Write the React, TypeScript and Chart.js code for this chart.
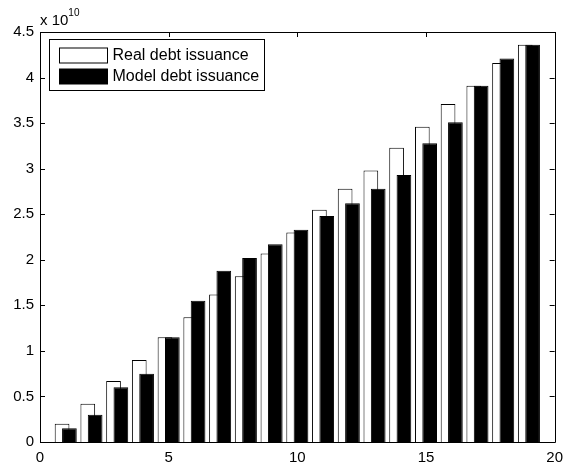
import React, { useEffect, useRef } from "react";
import { Chart, registerables } from "chart.js";

Chart.register(...registerables);

// ---- data (values in units of 10^10) ----
const periods = [1, 2, 3, 4, 5, 6, 7, 8, 9, 10, 11, 12, 13, 14, 15, 16, 17, 18, 19];
const realDebt = [0.20, 0.42, 0.67, 0.90, 1.15, 1.37, 1.62, 1.82, 2.07, 2.30, 2.55, 2.78, 2.98, 3.23, 3.46, 3.71, 3.91, 4.16, 4.36];
const modelDebt = [0.15, 0.30, 0.60, 0.75, 1.15, 1.55, 1.88, 2.02, 2.17, 2.33, 2.48, 2.62, 2.78, 2.93, 3.28, 3.51, 3.91, 4.21, 4.36];
const seriesLabels = ["Real debt issuance", "Model debt issuance"];
const xTickValues = [0, 5, 10, 15, 20];
const yTickValues = [0, 0.5, 1, 1.5, 2, 2.5, 3, 3.5, 4, 4.5];
const yTickLabels = ["0", "0.5", "1", "1.5", "2", "2.5", "3", "3.5", "4", "4.5"];
const EXP = 10;
const SCALE = Math.pow(10, EXP);

const FONT = "Liberation Sans, Arial, Helvetica, sans-serif";

// draw datasets in index order so the model bars sit on top of the real bars
const drawOrderPlugin = {
  id: "drawOrder",
  beforeDatasetsDraw(chart: any) {
    const { ctx, chartArea: a } = chart;
    ctx.save();
    ctx.beginPath();
    ctx.rect(a.left, a.top, a.right - a.left, a.bottom - a.top);
    ctx.clip();
    chart.getSortedVisibleDatasetMetas().forEach((meta: any) => meta.controller.draw());
    ctx.restore();
    return false;
  },
};

// MATLAB style box, inward ticks, exponent label and legend
const matlabPlugin = {
  id: "matlabFrame",
  afterDraw(chart: any) {
    const { ctx, chartArea: a, scales } = chart;
    const xs = scales.x;
    const ys = scales.y;
    const tl = 5;
    ctx.save();
    ctx.strokeStyle = "#000";
    ctx.lineWidth = 1;
    ctx.beginPath();
    ctx.rect(Math.round(a.left) + 0.5, Math.round(a.top) + 0.5, Math.round(a.right - a.left), Math.round(a.bottom - a.top));
    ctx.stroke();
    ctx.beginPath();
    xTickValues.forEach((v) => {
      const px = Math.round(xs.getPixelForValue(v)) + 0.5;
      ctx.moveTo(px, a.bottom);
      ctx.lineTo(px, a.bottom - tl);
      ctx.moveTo(px, a.top);
      ctx.lineTo(px, a.top + tl);
    });
    yTickValues.forEach((v) => {
      const py = Math.round(ys.getPixelForValue(v * SCALE)) + 0.5;
      ctx.moveTo(a.left, py);
      ctx.lineTo(a.left + tl, py);
      ctx.moveTo(a.right, py);
      ctx.lineTo(a.right - tl, py);
    });
    ctx.stroke();

    // exponent label
    ctx.fillStyle = "#000";
    ctx.textAlign = "left";
    ctx.textBaseline = "alphabetic";
    ctx.font = `15px ${FONT}`;
    const base = "x 10";
    ctx.fillText(base, a.left, a.top - 7);
    const w = ctx.measureText(base).width;
    ctx.font = `10px ${FONT}`;
    ctx.fillText(String(EXP), a.left + w, a.top - 16);

    // legend
    const lx = a.left + 9.5;
    const ly = a.top + 7.5;
    const lw = 215;
    const lh = 51;
    ctx.fillStyle = "#fff";
    ctx.fillRect(lx, ly, lw, lh);
    ctx.strokeRect(lx, ly, lw, lh);
    const ds = chart.data.datasets;
    const rows = [ly + 15.5, ly + 36.5];
    ds.forEach((d: any, i: number) => {
      const cy = rows[i];
      ctx.fillStyle = d.backgroundColor;
      ctx.fillRect(lx + 10, cy - 7, 48, 15);
      ctx.strokeStyle = "#000";
      ctx.strokeRect(lx + 10, cy - 7, 48, 15);
      ctx.fillStyle = "#000";
      ctx.font = `16px ${FONT}`;
      ctx.textBaseline = "middle";
      ctx.fillText(d.label, lx + 63, cy + 1);
    });
    ctx.restore();
  },
};

export default function App() {
  const ref = useRef<HTMLCanvasElement | null>(null);
  useEffect(() => {
    if (!ref.current) return;
    const chart = new Chart(ref.current, {
      type: "bar",
      data: {
        datasets: [
          {
            label: seriesLabels[0],
            data: periods.map((p, i) => ({ x: p, y: realDebt[i] * SCALE })),
            backgroundColor: "#ffffff",
            borderColor: "#000000",
            borderWidth: 1,
            categoryPercentage: 0.571,
            barPercentage: 2.0,
          },
          {
            label: seriesLabels[1],
            data: periods.map((p, i) => ({ x: p, y: modelDebt[i] * SCALE })),
            backgroundColor: "#000000",
            borderColor: "#000000",
            borderWidth: 1,
            categoryPercentage: 0.571,
            barPercentage: 2.0,
          },
        ] as any,
      },
      options: {
        animation: false,
        responsive: false,
        layout: { padding: { top: 32, right: 11, left: 0, bottom: 0 } },
        plugins: { legend: { display: false }, tooltip: { enabled: false } },
        scales: {
          x: {
            type: "linear",
            min: 0,
            max: 20,
            offset: false,
            grid: { display: false, drawTicks: false, offset: false },
            border: { display: false },
            afterBuildTicks: (s: any) => {
              s.ticks = xTickValues.map((v) => ({ value: v }));
            },
            ticks: {
              padding: 7,
              color: "#000",
              font: { family: FONT, size: 15 },
              callback: (v: any) => String(v),
            },
            afterFit: (s: any) => {
              s.height = 24;
            },
          },
          y: {
            type: "linear",
            min: 0,
            max: 4.5 * SCALE,
            grid: { display: false, drawTicks: false },
            border: { display: false },
            afterBuildTicks: (s: any) => {
              s.ticks = yTickValues.map((v) => ({ value: v * SCALE }));
            },
            ticks: {
              padding: 6,
              color: "#000",
              font: { family: FONT, size: 15 },
              callback: (_v: any, i: number) => yTickLabels[i],
            },
            afterFit: (s: any) => {
              s.width = 40;
            },
          },
        },
      } as any,
      plugins: [drawOrderPlugin, matlabPlugin],
    });
    return () => chart.destroy();
  }, []);
  return (
    <div style={{ position: "absolute", left: 0, top: 0, width: 570, height: 466, background: "#fff" }}>
      <canvas ref={ref} width={570} height={466} />
    </div>
  );
}
